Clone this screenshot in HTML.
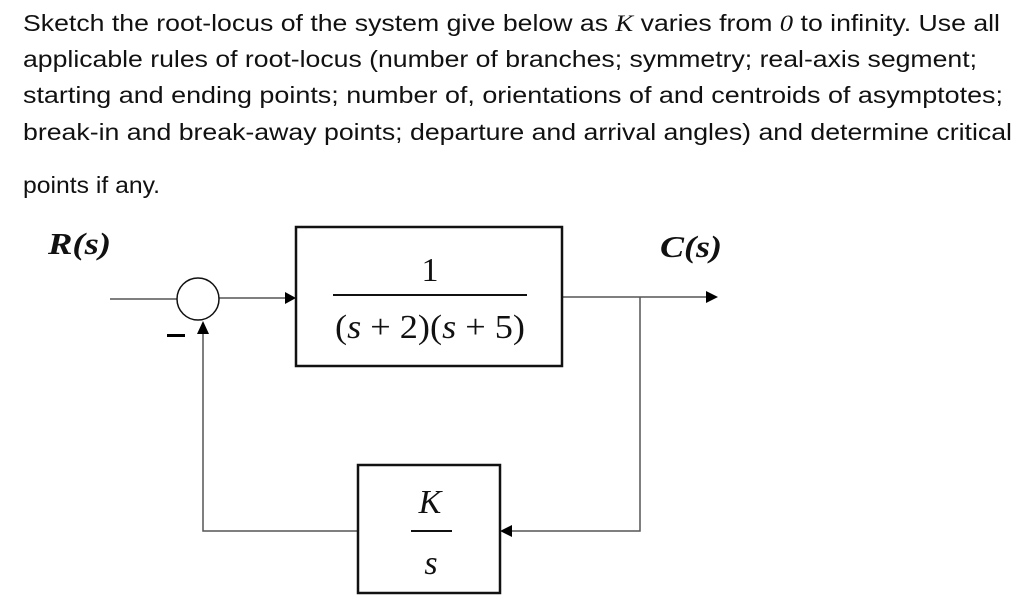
<!DOCTYPE html>
<html><head><meta charset="utf-8"><style>
html,body{margin:0;padding:0;background:#fff;width:1024px;height:609px;overflow:hidden}
</style></head><body>
<svg width="1024" height="609" viewBox="0 0 1024 609" xmlns="http://www.w3.org/2000/svg">
<g font-family="Liberation Sans, sans-serif" font-size="23.5" fill="#111">
<text x="23" y="31" textLength="977" lengthAdjust="spacingAndGlyphs">Sketch the root-locus of the system give below as <tspan font-family="Liberation Serif, serif" font-style="italic">K</tspan> varies from <tspan font-family="Liberation Serif, serif" font-style="italic">0</tspan> to infinity. Use all</text>
<text x="23" y="67" textLength="954" lengthAdjust="spacingAndGlyphs">applicable rules of root-locus (number of branches; symmetry; real-axis segment;</text>
<text x="23" y="103" textLength="980" lengthAdjust="spacingAndGlyphs">starting and ending points; number of, orientations of and centroids of asymptotes;</text>
<text x="23" y="140" textLength="989" lengthAdjust="spacingAndGlyphs">break-in and break-away points; departure and arrival angles) and determine critical</text>
<text x="23" y="193" textLength="137" lengthAdjust="spacingAndGlyphs">points if any.</text>
</g>
<g font-family="Liberation Serif, serif" font-weight="bold" font-style="italic" font-size="31" fill="#111">
<text x="48" y="254" textLength="63" lengthAdjust="spacingAndGlyphs">R(s)</text>
<text x="660" y="257" textLength="62" lengthAdjust="spacingAndGlyphs">C(s)</text>
</g>
<g stroke="#555" stroke-width="1.5" fill="none">
<line x1="110" y1="299" x2="177" y2="299"/>
<line x1="219" y1="298" x2="288" y2="298"/>
<line x1="562" y1="297" x2="708" y2="297"/>
<polyline points="640,297 640,531 508,531"/>
<polyline points="358,531 203,531 203,330"/>
</g>
<circle cx="198" cy="299" r="21" stroke="#111" stroke-width="1.5" fill="none"/>
<g fill="#000">
<polygon points="296,298 285,292 285,304"/>
<polygon points="718,297 706,291 706,303"/>
<polygon points="500,531 512,525 512,537"/>
<polygon points="203,321 197,334 209,334"/>
<rect x="167" y="334" width="18" height="3"/>
</g>
<rect x="296" y="227" width="266" height="139" stroke="#111" stroke-width="2.5" fill="none"/>
<rect x="358" y="465" width="142" height="128" stroke="#111" stroke-width="2.5" fill="none"/>
<g font-family="Liberation Serif, serif" font-size="34" fill="#111">
<text x="430" y="281" text-anchor="middle">1</text>
<line x1="333" y1="295" x2="527" y2="295" stroke="#111" stroke-width="2"/>
<text x="335" y="338" textLength="190" lengthAdjust="spacingAndGlyphs">(<tspan font-style="italic">s</tspan> + 2)(<tspan font-style="italic">s</tspan> + 5)</text>
<text x="430" y="513" font-style="italic" text-anchor="middle">K</text>
<line x1="411" y1="531" x2="452" y2="531" stroke="#111" stroke-width="2"/>
<text x="431" y="574" font-style="italic" text-anchor="middle">s</text>
</g>
</svg>
</body></html>
